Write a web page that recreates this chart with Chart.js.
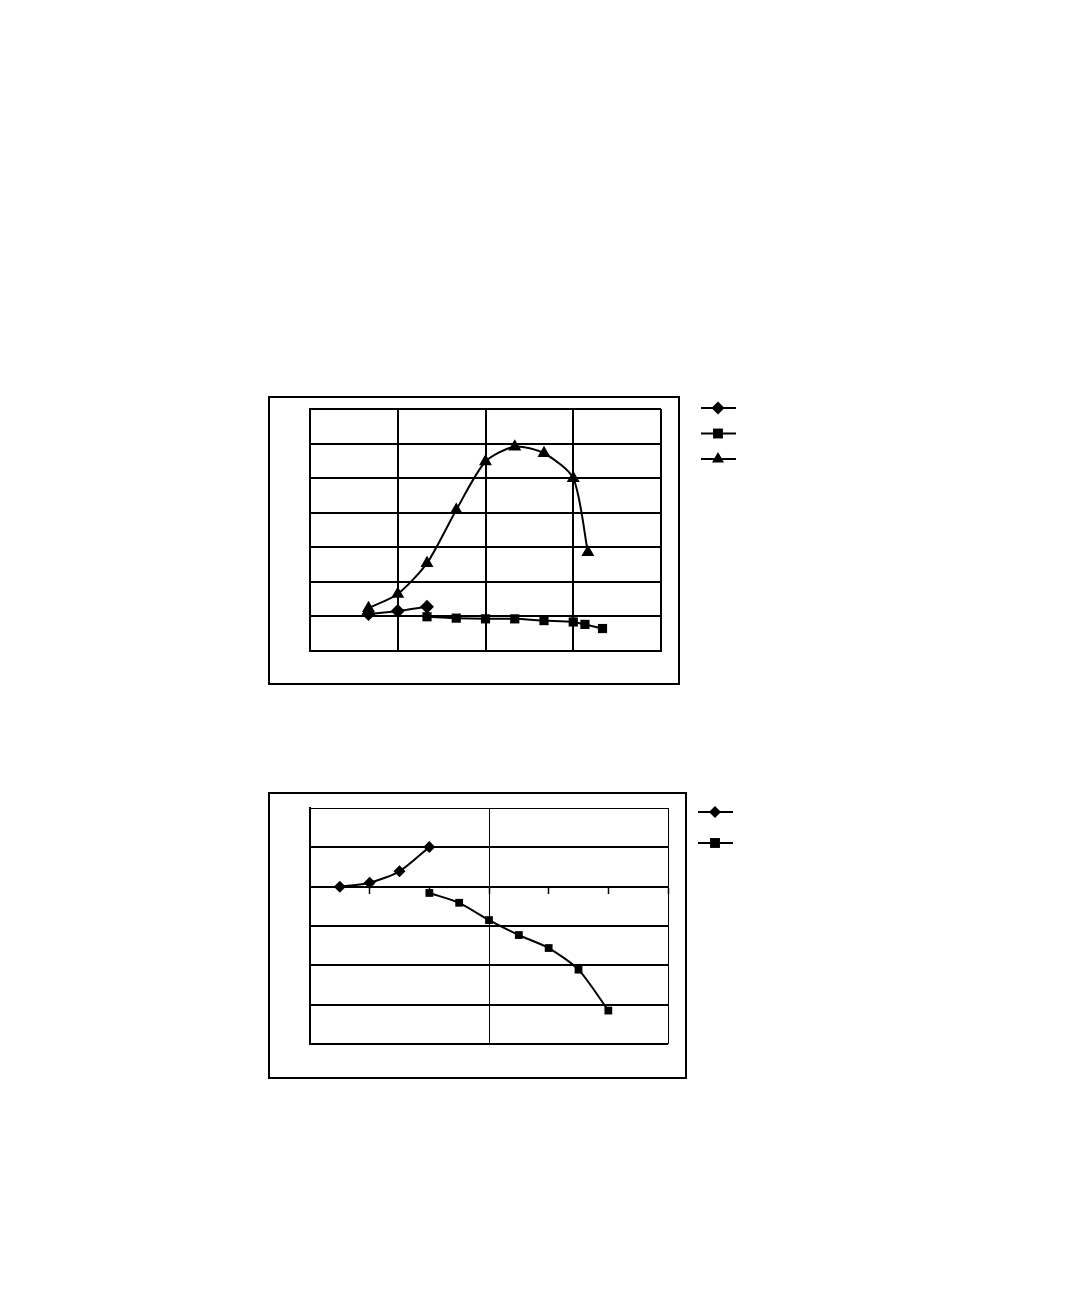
<!DOCTYPE html>
<html>
<head>
<meta charset="utf-8">
<script src="https://cdn.jsdelivr.net/npm/chart.js@4/dist/chart.umd.min.js"></script>
<style>
  body { margin: 0; background: #fff; width: 1080px; height: 1296px; position: relative; }
  canvas { position: absolute; }
  #chart1 { left: 260px; top: 388px; }
  #chart2 { left: 260px; top: 784px; }
</style>
</head>
<body>
<canvas id="chart1" width="640" height="306"></canvas>
<canvas id="chart2" width="640" height="306"></canvas>
<script>
// top chart
let diamondX1 = [20, 30, 40];
let diamondY1 = [1.07, 1.16, 1.28];
let squareX1 = [40, 50, 60, 70, 80, 90, 94, 100];
let squareY1 = [0.99, 0.95, 0.93, 0.93, 0.88, 0.84, 0.77, 0.65];
let triX1 = [20, 30, 40, 50, 60, 70, 80, 90, 95];
let triY1 = [1.24, 1.65, 2.54, 4.08, 5.48, 5.91, 5.72, 5.0, 2.86];

// bottom chart
let diamondX2 = [0.5, 1, 1.5, 2];
let diamondY2 = [0.0, 0.1, 0.39, 1.01];
let squareX2 = [2, 2.5, 3, 3.5, 4, 4.5, 5];
let squareY2 = [-0.16, -0.41, -0.85, -1.23, -1.56, -2.11, -3.15];

function toPoints(xs, ys) {
  return xs.map(function(x, i) { return { x: x, y: ys[i] }; });
}

// outer frame + unlabeled legend keys
let framePlugin = {
  id: 'frame',
  beforeDraw: function(chart, args, opts) {
    let ctx = chart.ctx;
    ctx.save();
    ctx.fillStyle = '#fff';
    ctx.fillRect(0, 0, chart.width, chart.height);
    ctx.strokeStyle = '#000';
    ctx.lineWidth = 2;
    ctx.strokeRect(opts.box[0], opts.box[1], opts.box[2], opts.box[3]);
    ctx.restore();
  },
  afterDraw: function(chart, args, opts) {
    let ctx = chart.ctx;
    ctx.save();
    chart.data.datasets.forEach(function(ds, i) {
      let y = opts.legendTop + i * opts.legendGap;
      ctx.strokeStyle = '#000';
      ctx.lineWidth = 2;
      ctx.beginPath();
      ctx.moveTo(opts.legendX - 17, y);
      ctx.lineTo(opts.legendX + 18, y);
      ctx.stroke();
      ctx.fillStyle = '#000';
      Chart.helpers.drawPoint(ctx, { pointStyle: ds.pointStyle, radius: opts.legendRadius[i], rotation: 0, borderWidth: 0 }, opts.legendX, y);
    });
    ctx.restore();
  }
};

function series(data, style, radius, tension) {
  return {
    data: data,
    borderColor: '#000',
    backgroundColor: '#000',
    borderWidth: 2,
    pointStyle: style,
    pointRadius: radius,
    pointBorderWidth: 0,
    tension: tension
  };
}

let config1 = {
  type: 'line',
  data: {
    datasets: [
      series(toPoints(diamondX1, diamondY1), 'rectRot', 7, 0.25),
      series(toPoints(squareX1, squareY1), 'rect', 6.5, 0.25),
      series(toPoints(triX1, triY1), 'triangle', 7.5, 0.25)
    ]
  },
  options: {
    responsive: false,
    animation: false,
    layout: { padding: { left: 50, top: 21, right: 239, bottom: 43 } },
    scales: {
      x: {
        type: 'linear', min: 0, max: 120,
        ticks: { display: false, stepSize: 30 },
        grid: { color: '#000', lineWidth: 2, drawTicks: false },
        border: { color: '#000', width: 2 }
      },
      y: {
        min: 0, max: 7,
        ticks: { display: false, stepSize: 1 },
        grid: { color: '#000', lineWidth: 2, drawTicks: false },
        border: { color: '#000', width: 2 }
      }
    },
    plugins: {
      legend: { display: false },
      tooltip: { enabled: false },
      frame: { box: [9, 9, 410, 287], legendX: 458, legendTop: 20, legendGap: 25.5, legendRadius: [6.5, 7, 7] }
    }
  },
  plugins: [framePlugin]
};

let config2 = {
  type: 'line',
  data: {
    datasets: [
      series(toPoints(diamondX2, diamondY2), 'rectRot', 6, 0.25),
      series(toPoints(squareX2, squareY2), 'rect', 5.5, 0.25)
    ]
  },
  options: {
    responsive: false,
    animation: false,
    layout: { padding: { left: 50, top: 24, right: 232, bottom: 46 } },
    scales: {
      x: {
        type: 'linear', min: 0, max: 6,
        position: { y: 0 },
        ticks: { display: false, stepSize: 1 },
        grid: {
          color: function(c) { return [0, 3, 6].includes(c.tick.value) ? '#000' : 'rgba(0,0,0,0)'; },
          lineWidth: function(c) { return c.tick.value === 0 ? 2 : 1; },
          drawTicks: true, tickLength: 6, tickColor: '#000', tickWidth: 1.5
        },
        border: { color: '#000', width: 2 }
      },
      y: {
        min: -4, max: 2,
        ticks: { display: false, stepSize: 1 },
        grid: {
          color: '#000',
          lineWidth: function(c) { return c.tick.value === 2 ? 1 : 2; },
          drawTicks: false
        },
        border: { color: '#000', width: 2 }
      }
    },
    plugins: {
      legend: { display: false },
      tooltip: { enabled: false },
      frame: { box: [9, 9, 417, 285], legendX: 455, legendTop: 28, legendGap: 31, legendRadius: [6, 7] }
    }
  },
  plugins: [framePlugin]
};

let chart1 = new Chart(document.getElementById('chart1'), config1);
let chart2 = new Chart(document.getElementById('chart2'), config2);
</script>
</body>
</html>
